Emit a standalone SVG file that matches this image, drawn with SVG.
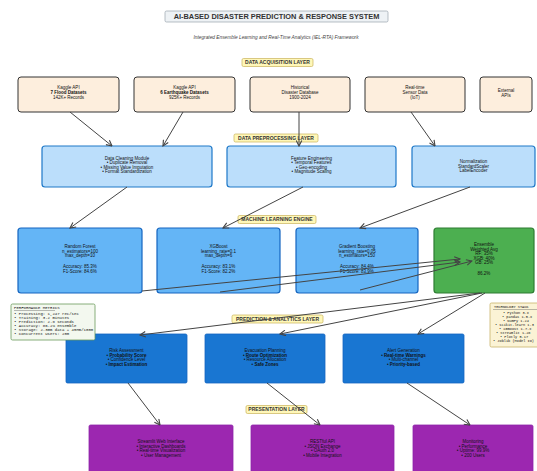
<svg xmlns="http://www.w3.org/2000/svg" width="537" height="471" viewBox="0 0 537 471">
<defs>
<marker id="ah" viewBox="0 0 10 10" refX="9" refY="5" markerWidth="7" markerHeight="7" orient="auto-start-reverse" markerUnits="userSpaceOnUse">
<path d="M1,1 L9,5 L1,9" fill="none" stroke="#444" stroke-width="1.6"/>
</marker>
<style>
text{font-family:"Liberation Sans",Arial,sans-serif;fill:#111;text-anchor:middle}
.t{font-size:4.5px}
.b{font-weight:bold}
.lbl rect{fill:#fff7b8;stroke:#c8b25a;stroke-width:0.7}
.lbl text{font-size:5px;font-weight:bold;fill:#333}
.data{fill:#fdeedd;stroke:#333;stroke-width:1}
.pre{fill:#bbdefb;stroke:#1e78c8;stroke-width:1.2}
.ml{fill:#64b5f6;stroke:#1565c0;stroke-width:1.2}
.ens{fill:#4caf50;stroke:#2e7d32;stroke-width:1.2}
.pred{fill:#1976d2;stroke:#1565c0;stroke-width:0.8}
.pres{fill:#9c27b0;stroke:#8e24aa;stroke-width:0.8}
.mono{font-family:"Liberation Mono","DejaVu Sans Mono",monospace;font-size:4px;text-anchor:start}
.mono2{font-family:"Liberation Mono","DejaVu Sans Mono",monospace;font-size:3.6px;text-anchor:start}
#connectors line{stroke:#444;stroke-width:1;marker-end:url(#ah)}
</style>
</defs>
<rect width="537" height="471" fill="#fff"/>

<g id="title">
<rect x="165" y="11" width="223" height="11" rx="1.5" fill="#eef2f5" stroke="#9aa4ad" stroke-width="0.7"/>
<text x="276.5" y="19.3" style="font-size:7.4px;font-weight:bold;fill:#333">AI-BASED DISASTER PREDICTION &amp; RESPONSE SYSTEM</text>
<text x="276" y="39" style="font-size:4.8px;font-style:italic;fill:#444">Integrated Ensemble Learning and Real-Time Analytics (IEL-RTA) Framework</text>
</g>

<g id="label-acq" class="lbl"><rect x="242" y="58.5" width="71" height="8" rx="1.5"/><text x="277.5" y="64.3">DATA ACQUISITION LAYER</text></g>
<g id="label-pre" class="lbl"><rect x="234" y="134" width="84" height="8" rx="1.5"/><text x="276" y="139.8">DATA PREPROCESSING LAYER</text></g>
<g id="label-ml" class="lbl"><rect x="238" y="215.5" width="78" height="8" rx="1.5"/><text x="277" y="221.3">MACHINE LEARNING ENGINE</text></g>
<g id="label-pred" class="lbl"><rect x="232" y="315" width="91" height="8" rx="1.5"/><text x="277.5" y="320.8">PREDICTION &amp; ANALYTICS LAYER</text></g>
<g id="label-pres" class="lbl"><rect x="246" y="405.5" width="61" height="8" rx="1.5"/><text x="276.5" y="411.3">PRESENTATION LAYER</text></g>

<g id="n-kaggle-flood"><rect class="data" x="18" y="77" width="101" height="35" rx="3"/>
<text class="t" x="68.5" y="89">Kaggle API</text><text class="t b" x="68.5" y="94">7 Flood Datasets</text><text class="t" x="68.5" y="99">142K+ Records</text></g>
<g id="n-kaggle-eq"><rect class="data" x="134" y="77" width="101" height="35" rx="3"/>
<text class="t" x="184.5" y="89">Kaggle API</text><text class="t b" x="184.5" y="94">6 Earthquake Datasets</text><text class="t" x="184.5" y="99">925K+ Records</text></g>
<g id="n-historical"><rect class="data" x="250" y="77" width="100" height="35" rx="3"/>
<text class="t" x="300" y="89">Historical</text><text class="t" x="300" y="94">Disaster Database</text><text class="t" x="300" y="99">1900-2024</text></g>
<g id="n-sensor"><rect class="data" x="365" y="77" width="100" height="35" rx="3"/>
<text class="t" x="415" y="89">Real-time</text><text class="t" x="415" y="94">Sensor Data</text><text class="t" x="415" y="99">(IoT)</text></g>
<g id="n-apis"><rect class="data" x="480" y="77" width="52" height="35" rx="3"/>
<text class="t" x="506" y="91.5">External</text><text class="t" x="506" y="96.5">APIs</text></g>

<g id="n-cleaning"><rect class="pre" x="42" y="146" width="170" height="41" rx="3"/>
<text class="t" x="127" y="159.5">Data Cleaning Module</text><text class="t" x="127" y="164">• Duplicate Removal</text><text class="t" x="127" y="168.5">• Missing Value Imputation</text><text class="t" x="127" y="173">• Format Standardization</text></g>
<g id="n-feature"><rect class="pre" x="227" y="146" width="169" height="41" rx="3"/>
<text class="t" x="311.5" y="159.5">Feature Engineering</text><text class="t" x="311.5" y="164">• Temporal Features</text><text class="t" x="311.5" y="168.5">• Geo-encoding</text><text class="t" x="311.5" y="173">• Magnitude Scaling</text></g>
<g id="n-normalization"><rect class="pre" x="412" y="146" width="123" height="41" rx="3"/>
<text class="t" x="473.5" y="163">Normalization</text><text class="t" x="473.5" y="167.5">StandardScaler</text><text class="t" x="473.5" y="172">LabelEncoder</text></g>

<g id="n-rf"><rect class="ml" x="18" y="228" width="124" height="65" rx="3"/>
<text class="t" x="80" y="248">Random Forest</text><text class="t" x="80" y="252.5">n_estimators=100</text><text class="t" x="80" y="257">max_depth=10</text><text class="t" x="80" y="268">Accuracy: 85.3%</text><text class="t" x="80" y="272.5">F1-Score: 84.6%</text></g>
<g id="n-xgb"><rect class="ml" x="157" y="228" width="123" height="65" rx="3"/>
<text class="t" x="218.5" y="248">XGBoost</text><text class="t" x="218.5" y="252.5">learning_rate=0.1</text><text class="t" x="218.5" y="257">max_depth=6</text><text class="t" x="218.5" y="268">Accuracy: 83.1%</text><text class="t" x="218.5" y="272.5">F1-Score: 82.2%</text></g>
<g id="n-gb"><rect class="ml" x="296" y="228" width="122" height="65" rx="3"/>
<text class="t" x="357" y="248">Gradient Boosting</text><text class="t" x="357" y="252.5">learning_rate=0.05</text><text class="t" x="357" y="257">n_estimators=150</text><text class="t" x="357" y="268">Accuracy: 84.4%</text><text class="t" x="357" y="272.5">F1-Score: 83.9%</text></g>
<g id="n-ensemble"><rect class="ens" x="434" y="228" width="100" height="65" rx="3"/>
<text class="t" x="484" y="246">Ensemble</text><text class="t" x="484" y="250.5">Weighted Avg</text><text class="t" x="484" y="255">RF: 35%</text><text class="t" x="484" y="259.5">XGB: 40%</text><text class="t" x="484" y="264">GB: 25%</text><text class="t" x="484" y="275">86.2%</text></g>

<g id="n-risk"><rect class="pred" x="66" y="334" width="121" height="49" rx="1.5"/>
<text class="t" x="126.5" y="352">Risk Assessment</text><text class="t b" x="126.5" y="356.5">• Probability Score</text><text class="t" x="126.5" y="361">• Confidence Level</text><text class="t b" x="126.5" y="365.5">• Impact Estimation</text></g>
<g id="n-evac"><rect class="pred" x="205" y="334" width="120" height="49" rx="1.5"/>
<text class="t" x="265" y="352">Evacuation Planning</text><text class="t b" x="265" y="356.5">• Route Optimization</text><text class="t" x="265" y="361">• Resource Allocation</text><text class="t b" x="265" y="365.5">• Safe Zones</text></g>
<g id="n-alert"><rect class="pred" x="343" y="334" width="121" height="49" rx="1.5"/>
<text class="t" x="403.5" y="352">Alert Generation</text><text class="t b" x="403.5" y="356.5">• Real-time Warnings</text><text class="t" x="403.5" y="361">• Multi-channel</text><text class="t b" x="403.5" y="365.5">• Priority-based</text></g>

<g id="n-streamlit"><rect class="pres" x="89" y="425" width="144" height="50" rx="1.5"/>
<text class="t" x="161" y="443">Streamlit Web Interface</text><text class="t" x="161" y="447.5">• Interactive Dashboards</text><text class="t" x="161" y="452">• Real-time Visualization</text><text class="t" x="161" y="456.5">• User Management</text></g>
<g id="n-rest"><rect class="pres" x="251" y="425" width="143" height="50" rx="1.5"/>
<text class="t" x="322.5" y="443">RESTful API</text><text class="t" x="322.5" y="447.5">• JSON Exchange</text><text class="t" x="322.5" y="452">• OAuth 2.0</text><text class="t" x="322.5" y="456.5">• Mobile Integration</text></g>
<g id="n-monitoring"><rect class="pres" x="413" y="425" width="120" height="50" rx="1.5"/>
<text class="t" x="473" y="443">Monitoring</text><text class="t" x="473" y="447.5">• Performance</text><text class="t" x="473" y="452">• Uptime: 99.9%</text><text class="t" x="473" y="456.5">• 200 Users</text></g>

<g id="n-metrics">
<rect x="11" y="304" width="84" height="36" rx="1.5" fill="#f3f8ef" stroke="#6a9a5a" stroke-width="0.8"/>
<text class="mono" x="14" y="309">PERFORMANCE METRICS</text>
<line x1="14" y1="310.5" x2="55" y2="310.5" stroke="#555" stroke-width="0.4"/>
<text class="mono" x="14" y="315">• Processing: 1,247 rec/sec</text>
<text class="mono" x="14" y="319">• Training: 3.2 minutes</text>
<text class="mono" x="14" y="323">• Prediction: 2.8 seconds</text>
<text class="mono" x="14" y="327">• Accuracy: 86.2% ensemble</text>
<text class="mono" x="14" y="331">• Storage: 2.3GB data + 45MB/1000</text>
<text class="mono" x="14" y="335">• Concurrent Users: 200</text>
</g>

<g id="n-tech">
<rect x="490" y="303" width="70" height="44" rx="1.5" fill="#fbf3d5" stroke="#c9b26a" stroke-width="0.8"/>
<text class="mono2" x="494" y="308">TECHNOLOGY STACK</text>
<line x1="493" y1="309.5" x2="537" y2="309.5" stroke="#555" stroke-width="0.4"/>
<text class="mono2" x="503" y="314">• Python 3.x</text>
<text class="mono2" x="502" y="318">• pandas 1.5.x</text>
<text class="mono2" x="503" y="322">• NumPy 1.24</text>
<text class="mono2" x="495" y="326">• scikit-learn 1.3</text>
<text class="mono2" x="499" y="330">• XGBoost 1.7.x</text>
<text class="mono2" x="496" y="334">• Streamlit 1.28</text>
<text class="mono2" x="500" y="338">• Plotly 5.17</text>
<text class="mono2" x="493" y="342">• Joblib (Model IO)</text>
</g>

<g id="connectors">
<line x1="70" y1="112" x2="112" y2="146"/>
<line x1="183" y1="112" x2="163" y2="146"/>
<line x1="299" y1="112" x2="299" y2="146"/>
<line x1="411" y1="112" x2="435" y2="146"/>
<line x1="127" y1="187" x2="70" y2="228"/>
<line x1="303" y1="187" x2="223" y2="228"/>
<line x1="470" y1="187" x2="360" y2="228"/>
<line x1="142" y1="291" x2="460" y2="259"/>
<line x1="220" y1="292" x2="460" y2="262"/>
<line x1="360" y1="290" x2="472" y2="261"/>
<line x1="480" y1="293" x2="140" y2="335"/>
<line x1="482" y1="293" x2="280" y2="334"/>
<line x1="485" y1="293" x2="418" y2="334"/>
<line x1="128" y1="383" x2="160" y2="425"/>
<line x1="267" y1="383" x2="320" y2="425"/>
<line x1="407" y1="383" x2="470" y2="425"/>
</g>
</svg>
